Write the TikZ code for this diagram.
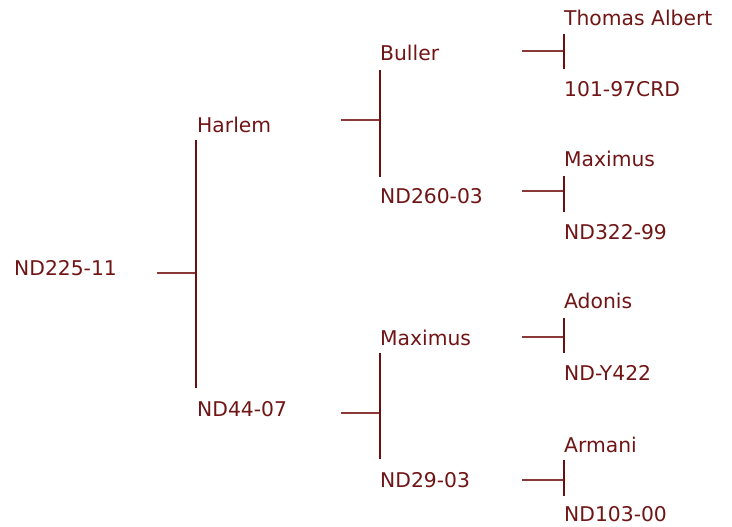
\documentclass[tikz,border=0pt]{standalone}
\usepackage{fontspec}
\setmainfont{DejaVu Sans}
\definecolor{maroonT}{HTML}{701515}
\definecolor{maroonV}{HTML}{6A0F0F}
\definecolor{maroonH}{HTML}{8A3838}
\begin{document}
\begin{tikzpicture}[x=1pt,y=-1pt,
  lbl/.style={anchor=base west,inner sep=0pt,text=maroonT,font=\fontsize{20.3}{24}\selectfont},
  hline/.style={draw=maroonH,line width=1.6pt},
  vline/.style={draw=maroonV,line width=2pt}]
\useasboundingbox (0,0) rectangle (732,527);
% level 0
\node[lbl] (root) at (14,275) {ND225-11};
% level 1
\node[lbl] (harlem) at (197,132) {Harlem};
\node[lbl] (nd4407) at (197,416) {ND44-07};
% level 2
\node[lbl] (buller) at (380,61) {Buller};
\node[lbl] (nd26003) at (380,203) {ND260-03};
\node[lbl] (maximusA) at (380,345) {Maximus};
\node[lbl] (nd2903) at (380,487) {ND29-03};
% level 3
\node[lbl] (thomas) at (564,26) {Thomas Albert};
\node[lbl] (crd) at (564,96) {101-97CRD};
\node[lbl] (maximusB) at (564,167) {Maximus};
\node[lbl] (nd32299) at (564,239) {ND322-99};
\node[lbl] (adonis) at (564,308) {Adonis};
\node[lbl] (ndy422) at (564,380) {ND-Y422};
\node[lbl] (armani) at (564,452) {Armani};
\node[lbl] (nd10300) at (564,521) {ND103-00};
% connector coordinates
\coordinate (r0) at (157,273); \coordinate (r1) at (196,273);
\coordinate (r1t) at (196,140); \coordinate (r1b) at (196,388);
\coordinate (h0) at (341,120); \coordinate (h1) at (380,120);
\coordinate (h1t) at (380,70); \coordinate (h1b) at (380,177);
\coordinate (n0) at (341,413); \coordinate (n1) at (380,413);
\coordinate (n1t) at (380,353); \coordinate (n1b) at (380,459);
\coordinate (b0) at (522,51); \coordinate (b1) at (564,51);
\coordinate (b1t) at (564,34); \coordinate (b1b) at (564,69);
\coordinate (d0) at (522,191); \coordinate (d1) at (564,191);
\coordinate (d1t) at (564,176); \coordinate (d1b) at (564,212);
\coordinate (m0) at (522,337); \coordinate (m1) at (564,337);
\coordinate (m1t) at (564,318); \coordinate (m1b) at (564,353);
\coordinate (z0) at (522,480); \coordinate (z1) at (564,480);
\coordinate (z1t) at (564,460); \coordinate (z1b) at (564,496);
% connectors
\draw[hline] (r0) -- (r1); \draw[vline] (r1t) -- (r1b);
\draw[hline] (h0) -- (h1); \draw[vline] (h1t) -- (h1b);
\draw[hline] (n0) -- (n1); \draw[vline] (n1t) -- (n1b);
\draw[hline] (b0) -- (b1); \draw[vline] (b1t) -- (b1b);
\draw[hline] (d0) -- (d1); \draw[vline] (d1t) -- (d1b);
\draw[hline] (m0) -- (m1); \draw[vline] (m1t) -- (m1b);
\draw[hline] (z0) -- (z1); \draw[vline] (z1t) -- (z1b);
\end{tikzpicture}
\end{document}
